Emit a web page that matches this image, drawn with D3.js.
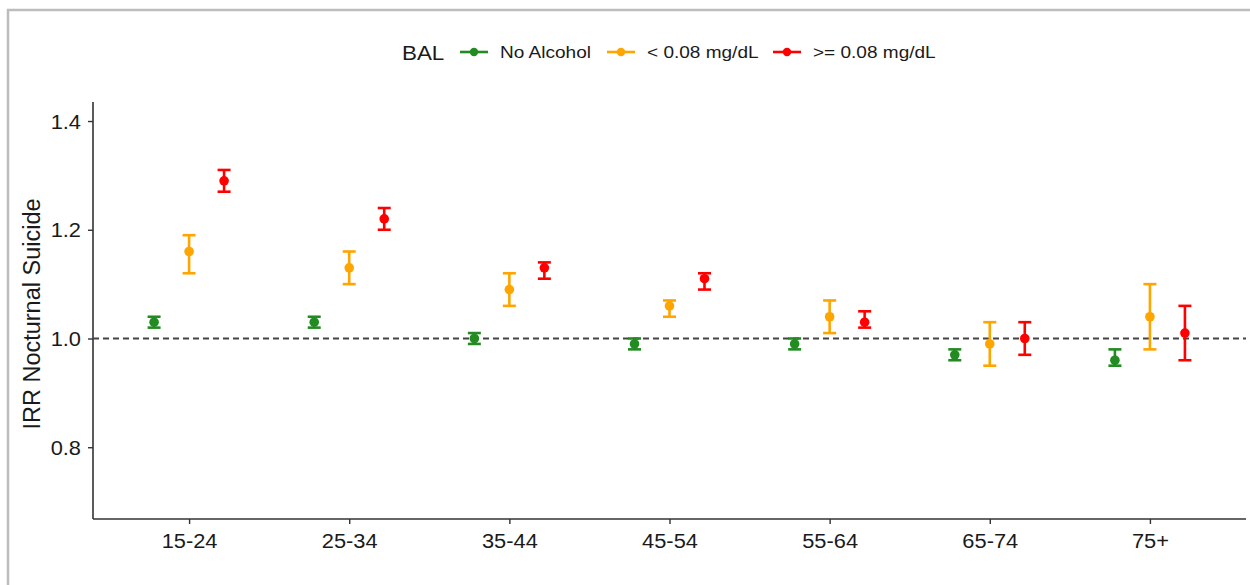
<!DOCTYPE html>
<html>
<head>
<meta charset="utf-8">
<script src="https://cdn.jsdelivr.net/npm/d3@7"></script>
<style>
  html, body { margin: 0; padding: 0; background: #fff; }
  svg { display: block; }
  text { font-family: "Liberation Sans", Arial, sans-serif; }
</style>
</head>
<body>
<svg id="chart" width="1250" height="585"></svg>
<script>
// ---- data ----
const ageGroups = ["15-24", "25-34", "35-44", "45-54", "55-64", "65-74", "75+"];
const seriesNames = ["No Alcohol", "< 0.08 mg/dL", ">= 0.08 mg/dL"];
const seriesColors = ["#228B22", "#FFA500", "#FF0000"];
const noAlcIRR   = [1.03, 1.03, 1.00, 0.99, 0.99, 0.97, 0.96];
const noAlcLow   = [1.02, 1.02, 0.99, 0.98, 0.98, 0.96, 0.95];
const noAlcHigh  = [1.04, 1.04, 1.01, 1.00, 1.00, 0.98, 0.98];
const lowIRR     = [1.16, 1.13, 1.09, 1.06, 1.04, 0.99, 1.04];
const lowLow     = [1.12, 1.10, 1.06, 1.04, 1.01, 0.95, 0.98];
const lowHigh    = [1.19, 1.16, 1.12, 1.07, 1.07, 1.03, 1.10];
const highIRR    = [1.29, 1.22, 1.13, 1.11, 1.03, 1.00, 1.01];
const highLow    = [1.27, 1.20, 1.11, 1.09, 1.02, 0.97, 0.96];
const highHigh   = [1.31, 1.24, 1.14, 1.12, 1.05, 1.03, 1.06];
const yTicks = [0.8, 1.0, 1.2, 1.4];
const refLine = 1.0;

const seriesData = [
  { name: seriesNames[0], color: seriesColors[0], est: noAlcIRR, lo: noAlcLow, hi: noAlcHigh },
  { name: seriesNames[1], color: seriesColors[1], est: lowIRR,   lo: lowLow,   hi: lowHigh },
  { name: seriesNames[2], color: seriesColors[2], est: highIRR,  lo: highLow,  hi: highHigh }
];
const rows = [];
seriesData.forEach(s => ageGroups.forEach((g, i) => rows.push({
  series: s.name, color: s.color, group: g, est: s.est[i], lo: s.lo[i], hi: s.hi[i]
})));

// ---- layout ----
const SX = 1.12; // slight horizontal glyph stretch seen in reference
const svg = d3.select("#chart");
const plot = { left: 93, right: 1246, top: 102, bottom: 519 };

// frame
svg.append("line").attr("x1", 7).attr("x2", 1250).attr("y1", 10).attr("y2", 10)
  .attr("stroke", "#bdbdbd").attr("stroke-width", 2.5);
svg.append("line").attr("x1", 8).attr("x2", 8).attr("y1", 9).attr("y2", 585)
  .attr("stroke", "#bdbdbd").attr("stroke-width", 2.5);

const x = d3.scalePoint().domain(ageGroups).range([plot.left, plot.right]).padding(0.6);
const dodge = d3.scalePoint().domain(seriesNames).range([-35, 35]);
const y = d3.scaleLinear().domain([0.668, 1.435]).range([plot.bottom, plot.top]);

// axes
const gy = svg.append("g").attr("transform", `translate(${plot.left},0)`)
  .call(d3.axisLeft(y).tickValues(yTicks).tickFormat(d3.format(".1f")).tickSize(5).tickSizeOuter(0));
const gx = svg.append("g").attr("transform", `translate(0,${plot.bottom})`)
  .call(d3.axisBottom(x).tickSize(5).tickSizeOuter(0));
[gy, gx].forEach(g => {
  g.select(".domain").attr("stroke", "#333").attr("stroke-width", 1.6);
  g.selectAll(".tick line").attr("stroke", "#333").attr("stroke-width", 1.4);
  g.selectAll(".tick text").attr("fill", "#1a1a1a").attr("font-size", 19.5)
    .attr("font-family", '"Liberation Sans", Arial, sans-serif');
});
gy.select(".domain").attr("d", `M0,${plot.top}V${plot.bottom}`);
gx.select(".domain").attr("d", `M${plot.left},0H${plot.right}`);
gy.selectAll(".tick text").attr("x", -12 / SX).attr("dy", "0.36em").attr("transform", `scale(${SX},1)`);
gx.selectAll(".tick text").attr("y", 29).attr("dy", 0).attr("transform", `scale(${SX},1)`);

// y axis title
svg.append("text")
  .attr("transform", `translate(40,${(198 + 430) / 2}) rotate(-90)`)
  .attr("text-anchor", "middle").attr("font-size", 23.5).attr("fill", "#1a1a1a")
  .text("IRR Nocturnal Suicide");

// reference line
svg.append("line")
  .attr("x1", plot.left).attr("x2", plot.right)
  .attr("y1", y(refLine)).attr("y2", y(refLine))
  .attr("stroke", "#444").attr("stroke-width", 1.8).attr("stroke-dasharray", "6,4");

// error bars
const cap = 6.5;
const marks = svg.append("g");
const eb = marks.selectAll("g.eb").data(rows).join("g").attr("class", "eb")
  .attr("transform", d => `translate(${x(d.group) + dodge(d.series)},0)`);
eb.append("line").attr("x1", 0).attr("x2", 0)
  .attr("y1", d => y(d.lo)).attr("y2", d => y(d.hi))
  .attr("stroke", d => d.color).attr("stroke-width", 2.6);
eb.append("line").attr("x1", -cap).attr("x2", cap)
  .attr("y1", d => y(d.lo)).attr("y2", d => y(d.lo))
  .attr("stroke", d => d.color).attr("stroke-width", 2.6);
eb.append("line").attr("x1", -cap).attr("x2", cap)
  .attr("y1", d => y(d.hi)).attr("y2", d => y(d.hi))
  .attr("stroke", d => d.color).attr("stroke-width", 2.6);
eb.append("circle").attr("cx", 0).attr("cy", d => y(d.est)).attr("r", 4.8)
  .attr("fill", d => d.color);

// legend
const legY = 52;
const leg = svg.append("g");
leg.append("text").attr("transform", `translate(402,${legY + 7.5}) scale(${SX},1)`)
  .attr("font-size", 20).attr("fill", "#1a1a1a").text("BAL");
const keyX = [460, 607, 773];
seriesData.forEach((s, i) => {
  const g = leg.append("g").attr("transform", `translate(${keyX[i]},${legY})`);
  g.append("line").attr("x1", 0).attr("x2", 28).attr("y1", 0).attr("y2", 0)
    .attr("stroke", s.color).attr("stroke-width", 2.6);
  g.append("circle").attr("cx", 14).attr("cy", 0).attr("r", 4.2).attr("fill", s.color);
  g.append("text").attr("transform", `translate(40,6) scale(${SX},1)`)
    .attr("font-size", 17).attr("fill", "#1a1a1a").text(s.name);
});
</script>
</body>
</html>
